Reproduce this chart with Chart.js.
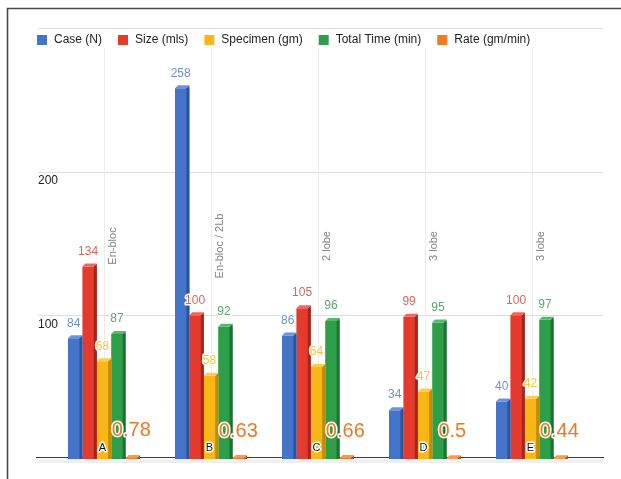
<!DOCTYPE html>
<html>
<head>
<meta charset="utf-8">
<script src="https://cdn.jsdelivr.net/npm/chart.js@4/dist/chart.umd.min.js"></script>
<style>
  html, body { margin: 0; padding: 0; background: #fff; }
  #wrap { width: 621px; height: 479px; position: relative; }
</style>
</head>
<body>
<div id="wrap"><canvas id="c" width="621" height="479"></canvas></div>
<script>
// Groups, their procedure notes and the five measured series
const categories = ['A', 'B', 'C', 'D', 'E'];
const procedureNotes = ['En-bloc', 'En-bloc / 2Lb', '2 lobe', '3 lobe', '3 lobe'];
const seriesNames = ['Case (N)', 'Size (mls)', 'Specimen (gm)', 'Total Time (min)', 'Rate (gm/min)'];
const caseCount = [84, 258, 86, 34, 40];
const sizeMls = [134, 100, 105, 99, 100];
const specimenGm = [68, 58, 64, 47, 42];
const totalTimeMin = [87, 92, 96, 95, 97];
const rateGmMin = [0.78, 0.63, 0.66, 0.5, 0.44];
const yTickValues = [100, 200];
const gridValues = [100, 200, 300];

// Colours: front face, side face, top face, value label
const frontColors = ['#4474c8', '#e53b2f', '#f8b716', '#2f9e48', '#f07b22'];
const sideColors = ['#2c539e', '#a8241a', '#c48a00', '#1d7232', '#b8550f'];
const topColors = ['#6d93da', '#f0665c', '#fccc4e', '#57b96c', '#f69a52'];
const labelColors = ['#6e91cd', '#d4665c', '#f5c53c', '#5aa66c', '#ea7a24'];

const FONT = '"Liberation Sans", Arial, sans-serif';
const DEPTH = 3;

const seriesValues = [caseCount, sizeMls, specimenGm, totalTimeMin, rateGmMin];

function haloText(ctx, text, x, y, color, font) {
  ctx.font = font;
  ctx.lineJoin = 'round';
  ctx.lineWidth = 3;
  ctx.strokeStyle = '#ffffff';
  ctx.strokeText(text, x, y);
  ctx.fillStyle = color;
  ctx.fillText(text, x, y);
}

// Frame, gridlines, note lines, axis labels and legend
const backdrop = {
  id: 'backdrop',
  beforeDatasetsDraw(chart) {
    const ctx = chart.ctx;
    const ys = chart.scales.y, xs = chart.scales.x;
    const gx0 = 38, gx1 = 603;
    ctx.save();
    // outer frame
    ctx.strokeStyle = '#4a4a4a';
    ctx.lineWidth = 1.6;
    ctx.beginPath();
    ctx.moveTo(7.5, 479); ctx.lineTo(7.5, 8.5); ctx.lineTo(621, 8.5);
    ctx.stroke();

    // horizontal gridlines
    ctx.lineWidth = 1;
    ctx.strokeStyle = '#dedede';
    gridValues.forEach(v => {
      const py = Math.round(ys.getPixelForValue(v)) + 0.5;
      ctx.beginPath(); ctx.moveTo(gx0, py); ctx.lineTo(gx1, py); ctx.stroke();
    });

    // note lines at each group
    ctx.strokeStyle = '#ececec';
    const base = ys.getPixelForValue(0);
    categories.forEach((c, i) => {
      const px = Math.round(xs.getPixelForValue(i)) + 0.5;
      ctx.beginPath(); ctx.moveTo(px, 48); ctx.lineTo(px, base); ctx.stroke();
    });

    // note text, rotated
    ctx.fillStyle = '#858585';
    ctx.font = '11px ' + FONT;
    ctx.textAlign = 'center';
    ctx.textBaseline = 'middle';
    procedureNotes.forEach((t, i) => {
      const px = xs.getPixelForValue(i) + 8.5;
      ctx.save();
      ctx.translate(px, 246);
      ctx.rotate(-Math.PI / 2);
      ctx.fillText(t, 0, 0);
      ctx.restore();
    });

    // floor band and baseline
    ctx.fillStyle = '#efefef';
    ctx.fillRect(gx0, base, gx1 - gx0, 4);
    ctx.strokeStyle = '#3a3a3a';
    ctx.beginPath(); ctx.moveTo(gx0 - 2, base - 1.5); ctx.lineTo(gx1 + 1, base - 1.5); ctx.stroke();

    // y tick labels
    ctx.fillStyle = '#222';
    ctx.font = '12px ' + FONT;
    ctx.textAlign = 'left';
    yTickValues.forEach(v => {
      ctx.fillText(String(v), 38, ys.getPixelForValue(v) + 9);
    });

    // legend
    ctx.font = '12px ' + FONT;
    ctx.textBaseline = 'middle';
    let lx = 37;
    const ly = 40;
    seriesNames.forEach((name, i) => {
      ctx.fillStyle = frontColors[i];
      ctx.fillRect(lx, ly - 5, 10, 10);
      ctx.fillStyle = '#222';
      ctx.fillText(name, lx + 17, ly);
      lx += 17 + ctx.measureText(name).width + 16;
    });
    ctx.restore();
  }
};

// Side and top faces that give the bars depth
const bars3d = {
  id: 'bars3d',
  afterDatasetsDraw(chart) {
    const ctx = chart.ctx;
    ctx.save();
    chart.data.datasets.forEach((ds, di) => {
      chart.getDatasetMeta(di).data.forEach(bar => {
        const { x, y, base, width } = bar.getProps(['x', 'y', 'base', 'width'], true);
        const L = x - width / 2, R = x + width / 2;
        ctx.fillStyle = sideColors[di];
        ctx.beginPath();
        ctx.moveTo(R - DEPTH, y); ctx.lineTo(R, y - DEPTH); ctx.lineTo(R, base); ctx.lineTo(R - DEPTH, base);
        ctx.closePath(); ctx.fill();
        ctx.fillStyle = topColors[di];
        ctx.beginPath();
        ctx.moveTo(L, y); ctx.lineTo(L + DEPTH, y - DEPTH); ctx.lineTo(R, y - DEPTH); ctx.lineTo(R - DEPTH, y);
        ctx.closePath(); ctx.fill();
      });
    });
    ctx.restore();
  }
};

// Value labels above bars and the group letters
const valueLabels = {
  id: 'valueLabels',
  afterDatasetsDraw(chart) {
    const ctx = chart.ctx;
    ctx.save();
    ctx.textAlign = 'center';
    ctx.textBaseline = 'middle';
    chart.data.datasets.forEach((ds, di) => {
      chart.getDatasetMeta(di).data.forEach((bar, i) => {
        const { x, y } = bar.getProps(['x', 'y'], true);
        const v = ds.data[i];
        if (di === 4) {
          haloText(ctx, String(v), x - 1.5, y - 27, labelColors[di], '20px ' + FONT);
        } else {
          haloText(ctx, String(v), x - 1.5, y - 15, labelColors[di], '12px ' + FONT);
        }
      });
    });
    const yellow = chart.getDatasetMeta(2).data;
    categories.forEach((c, i) => {
      const { x } = yellow[i].getProps(['x'], true);
      haloText(ctx, c, x - 1.5, 448, '#111', '11px ' + FONT);
    });
    ctx.restore();
  }
};

new Chart(document.getElementById('c'), {
  type: 'bar',
  data: {
    labels: categories,
    datasets: seriesNames.map((name, i) => ({
      label: name,
      data: seriesValues[i],
      backgroundColor: frontColors[i],
      borderWidth: 0,
      barPercentage: 1.0,
      categoryPercentage: 0.673
    }))
  },
  options: {
    responsive: false,
    animation: false,
    devicePixelRatio: 1,
    layout: { padding: { left: 50.5, right: 35.5, top: 28, bottom: 20 } },
    plugins: {
      legend: { display: false },
      tooltip: { enabled: false },
      title: { display: false }
    },
    scales: {
      x: { display: false },
      y: { display: false, min: 0, max: 300 }
    }
  },
  plugins: [backdrop, bars3d, valueLabels]
});
</script>
</body>
</html>
